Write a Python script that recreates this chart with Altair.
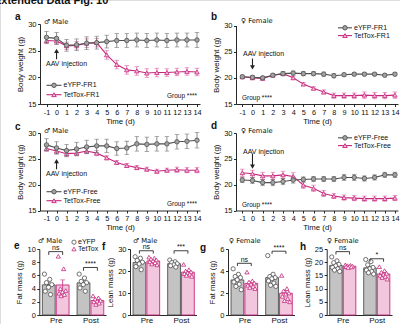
import altair as alt
import pandas as pd

W, H = 400, 324
FONT = "Liberation Sans"
BLACK = "#111111"
GRAY = "#4f4f4f"; GRAY_PT = "#a3a3a3"; ERR_G = "#6e6e6e"
MAG = "#c7277d"; MAG_PT = "#f3c0da"; ERR_M = "#d4589c"
BAR_G = "#c3c3c3"; BAR_P = "#f2c6dc"

days = list(range(-1, 15))

# a: male, FR1
a_eyfp = [27.5, 27.3, 26.0, 26.1, 26.4, 26.5, 26.7, 26.9, 26.9, 27.0, 26.9, 27.0, 26.9, 27.0, 27.0, 27.0]
a_eyfp_sem = [1.1, 1.1, 1.1, 1.1, 1.2, 1.2, 1.2, 1.3, 1.3, 1.3, 1.3, 1.3, 1.3, 1.3, 1.3, 1.4]
a_tet = [26.9, 26.8, 25.9, 26.0, 26.4, 26.5, 24.2, 22.4, 21.4, 21.2, 20.8, 20.9, 20.9, 21.0, 21.1, 21.0]
a_tet_sem = [0.6, 0.6, 0.7, 0.7, 0.8, 0.8, 0.8, 0.8, 0.8, 0.8, 0.8, 0.8, 0.7, 0.7, 0.7, 0.7]
# b: female, FR1
b_eyfp = [20.2, 20.1, 20.0, 20.5, 20.8, 20.9, 20.8, 20.8, 20.7, 20.4, 20.6, 20.7, 20.7, 20.7, 20.5, 20.7]
b_eyfp_sem = [0.3, 0.3, 0.3, 0.3, 0.4, 0.4, 0.4, 0.4, 0.4, 0.4, 0.3, 0.3, 0.3, 0.3, 0.3, 0.3]
b_tet = [20.2, 20.0, 19.9, 20.5, 20.8, 20.0, 18.8, 18.0, 17.3, 16.6, 16.6, 16.6, 16.7, 16.6, 16.6, 16.7]
b_tet_sem = [0.3, 0.3, 0.3, 0.3, 0.3, 0.3, 0.3, 0.3, 0.4, 0.5, 0.5, 0.5, 0.6, 0.6, 0.6, 0.6]
# c: male, free feeding
c_eyfp = [27.7, 27.1, 26.6, 26.9, 27.3, 27.5, 27.5, 27.0, 27.1, 27.9, 27.8, 27.9, 27.9, 28.3, 28.4, 28.6]
c_eyfp_sem = [1.2, 1.2, 1.2, 1.3, 1.3, 1.3, 1.3, 1.3, 1.3, 1.4, 1.4, 1.4, 1.4, 1.4, 1.4, 1.5]
c_tet = [27.0, 26.5, 26.0, 26.1, 26.5, 26.1, 25.2, 24.3, 23.7, 23.3, 23.0, 22.6, 22.8, 22.9, 22.8, 22.8]
c_tet_sem = [0.5, 0.5, 0.5, 0.5, 0.5, 0.5, 0.4, 0.4, 0.4, 0.4, 0.4, 0.4, 0.4, 0.5, 0.5, 0.5]
# d: female, free feeding
d_eyfp = [20.9, 20.8, 20.4, 20.4, 20.6, 20.9, 21.0, 21.1, 21.1, 21.1, 21.4, 21.4, 21.2, 21.4, 21.9, 21.9]
d_eyfp_sem = [0.5, 0.6, 0.6, 0.6, 0.6, 0.6, 0.5, 0.5, 0.5, 0.5, 0.6, 0.6, 0.5, 0.5, 0.5, 0.5]
d_tet = [22.3, 22.1, 21.7, 21.7, 21.9, 21.6, 19.9, 19.3, 18.3, 17.8, 17.5, 17.4, 17.3, 17.3, 17.3, 17.4]
d_tet_sem = [0.7, 0.7, 0.7, 0.7, 0.7, 0.7, 0.6, 0.6, 0.6, 0.5, 0.5, 0.5, 0.5, 0.5, 0.5, 0.5]

# e: male fat mass (g)
e_pre_eyfp = [6.2, 5.4, 4.9, 4.6, 4.2, 3.6, 3.1]
e_pre_tet = [8.9, 7.0, 4.0, 3.7, 3.5, 3.3, 3.1, 2.9]
e_post_eyfp = [6.2, 5.6, 5.1, 4.9, 4.6, 4.1, 3.6]
e_post_tet = [2.9, 2.6, 2.4, 2.2, 2.1, 2.0, 1.8, 1.6]
# f: male lean mass (g)
f_pre_eyfp = [26.5, 25.8, 24.8, 24.0, 23.2, 22.0, 20.6]
f_pre_tet = [26.3, 25.8, 25.4, 25.0, 24.6, 24.2, 23.8, 23.2, 22.8]
f_post_eyfp = [25.0, 24.2, 23.8, 23.3, 22.8, 22.4, 21.8]
f_post_tet = [23.0, 20.6, 20.0, 19.6, 19.2, 18.8, 18.5, 18.0, 17.6]
# g: female fat mass (g)
g_pre_eyfp = [4.2, 3.7, 3.5, 3.4, 3.2, 3.0, 2.8, 2.6, 2.3]
g_pre_tet = [3.9, 3.1, 3.0, 2.9, 2.8, 2.7, 2.6, 2.5, 2.4]
g_post_eyfp = [5.4, 3.7, 3.5, 3.4, 3.3, 3.1, 2.9, 2.7, 2.6]
g_post_tet = [3.6, 2.4, 2.2, 2.0, 1.9, 1.7, 1.5, 1.3, 1.2]
# h: female lean mass (g)
h_pre_eyfp = [22.0, 20.5, 19.8, 19.2, 18.6, 18.0, 17.5, 17.0, 16.5]
h_pre_tet = [19.0, 18.8, 18.7, 18.5, 18.4, 18.3, 18.2, 18.0]
h_post_eyfp = [21.0, 20.2, 19.0, 18.0, 17.5, 17.0, 16.5, 16.0, 15.5]
h_post_tet = [18.3, 16.8, 16.2, 15.8, 15.4, 15.0, 14.6, 14.2, 13.6]

AX = dict(domainColor=BLACK, tickColor=BLACK, labelColor=BLACK, titleColor=BLACK,
          grid=False, domainWidth=0.9, tickWidth=0.9, labelFont=FONT, titleFont=FONT,
          titleFontWeight="normal", labelOverlap=False, labelFlush=False)

ONE = pd.DataFrame({"k": [0]})


def txt(s, x, y, size=7, bold=False, align="left", color=BLACK, baseline="middle", font=FONT):
    return alt.Chart(ONE).mark_text(
        text=s, fontSize=size, font=font, fontWeight="bold" if bold else "normal",
        align=align, baseline=baseline, color=color
    ).encode(x=alt.value(x), y=alt.value(y))


def sex(s, x, y):
    return txt(s, x, y, size=6.8, font="DejaVu Sans")


def legend_entry(x1, x2, y, shape, line_c, fill, label, size=7):
    return [
        alt.Chart(ONE).mark_rule(color=line_c, strokeWidth=1.1).encode(
            x=alt.value(x1), x2=alt.value(x2), y=alt.value(y)),
        alt.Chart(ONE).mark_point(shape=shape, filled=True, fill=fill, stroke=line_c,
                                  strokeWidth=0.9, size=20, opacity=1).encode(
            x=alt.value((x1 + x2) / 2), y=alt.value(y)),
        txt(label, x2 + 2, y, size=size),
    ]


def line_panel(eyfp, eyfp_sem, tet, tet_sem, xr, xdom, yr, arrow):
    xs = alt.Scale(domain=xdom, range=xr, nice=False, zero=False)
    ys = alt.Scale(domain=[15, 30], range=yr, nice=False, zero=False)
    xax = alt.Axis(orient="bottom", offset=yr[0] - H, values=days, title="Time (d)",
                   labelExpr="datum.value < 0 ? '-' + abs(datum.value) : datum.label",
                   labelFontSize=7.3, titleFontSize=7.8, tickSize=2.5, labelPadding=1.5,
                   titlePadding=2, **AX)
    yax = alt.Axis(orient="left", offset=-xr[0], values=[15, 20, 25, 30], title="Body weight (g)",
                   labelFontSize=7.5, titleFontSize=8, tickSize=2.5, labelPadding=1.5,
                   titlePadding=3, **AX)

    def X(f):
        return alt.X(f, scale=xs, axis=xax)

    def Y(f):
        return alt.Y(f, scale=ys, axis=yax)

    layers = []
    for vals, sems, line_c, err_c, shape, fill in [
        (tet, tet_sem, MAG, ERR_M, "triangle-up", MAG_PT),
        (eyfp, eyfp_sem, GRAY, ERR_G, "circle", GRAY_PT),
    ]:
        df = pd.DataFrame({"day": days, "w": vals, "sem": sems})
        base = alt.Chart(df).transform_calculate(lo="datum.w - datum.sem", hi="datum.w + datum.sem")
        layers.append(base.mark_rule(color=err_c, strokeWidth=0.8).encode(
            x=X("day:Q"), y=Y("lo:Q"), y2="hi:Q"))
        for f in ["lo", "hi"]:
            layers.append(base.mark_tick(orient="horizontal", size=4.5, thickness=0.8, color=err_c).encode(
                x=X("day:Q"), y=Y(f + ":Q")))
        layers.append(base.mark_line(color=line_c, strokeWidth=1.1).encode(x=X("day:Q"), y=Y("w:Q")))
        layers.append(base.mark_point(shape=shape, filled=True, fill=fill, stroke=line_c,
                                      strokeWidth=0.8, size=20, opacity=1).encode(
            x=X("day:Q"), y=Y("w:Q")))
    # injection arrow (day 0)
    adf = pd.DataFrame({"day": [0], "a0": [arrow[0]], "a1": [arrow[1]], "tip": [arrow[2]]})
    layers.append(alt.Chart(adf).mark_rule(color="#222222", strokeWidth=1.1).encode(
        x=X("day:Q"), y=Y("a0:Q"), y2="a1:Q"))
    layers.append(alt.Chart(adf).mark_point(shape=arrow[3], filled=True, color="#222222",
                                            size=24, opacity=1).encode(
        x=X("day:Q"), y=Y("tip:Q")))
    return alt.layer(*layers)


def bar_panel(arrs, xr, ydom, yvals, ytitle, brackets):
    rows = []
    for phase, p0, pair in [("Pre", 0.0, arrs[:2]), ("Post", 2.5, arrs[2:])]:
        for gi, (geno, arr) in enumerate(zip(["eYFP", "TetTox"], pair)):
            for i, v in enumerate(arr):
                jit = ((i * 0.618) % 1 - 0.5) * 0.62
                rows.append(dict(phase=phase, geno=geno, v=v, pos=p0 + gi, px=p0 + gi + jit))
    df = pd.DataFrame(rows)
    xs = alt.Scale(domain=[-0.68, 4.12], range=xr, nice=False, zero=False)
    ys = alt.Scale(domain=ydom, range=[315, 249], nice=False, zero=False)
    xax = alt.Axis(orient="bottom", offset=315 - H, values=[0.5, 3.0],
                   labelExpr="datum.value < 1.5 ? 'Pre' : 'Post'", title=None,
                   labelFontSize=8, ticks=False, labelPadding=1, **AX)
    yax = alt.Axis(orient="left", offset=-xr[0], values=yvals, title=ytitle,
                   labelFontSize=7.5, titleFontSize=7.8, tickSize=2.5, labelPadding=1.5,
                   titlePadding=3, **AX)

    def X(f):
        return alt.X(f, scale=xs, axis=xax)

    def Y(f):
        return alt.Y(f, scale=ys, axis=yax)

    fill_s = alt.Scale(domain=["eYFP", "TetTox"], range=[BAR_G, BAR_P])
    stroke_s = alt.Scale(domain=["eYFP", "TetTox"], range=[GRAY, MAG])
    shape_s = alt.Scale(domain=["eYFP", "TetTox"], range=["circle", "triangle-up"])
    base = alt.Chart(df)
    agg = base.transform_aggregate(
        m="mean(v)", s="stderr(v)", groupby=["phase", "geno", "pos"]
    ).transform_calculate(
        x1="datum.pos - 0.46", x2="datum.pos + 0.46", lo="datum.m - datum.s", hi="datum.m + datum.s")
    layers = [
        agg.mark_bar(strokeWidth=0.9).encode(
            x=X("x1:Q"), x2="x2:Q", y=Y("m:Q"), y2=alt.datum(0),
            fill=alt.Fill("geno:N", scale=fill_s, legend=None),
            stroke=alt.Stroke("geno:N", scale=stroke_s, legend=None)),
        agg.mark_rule(strokeWidth=0.8).encode(
            x=X("pos:Q"), y=Y("lo:Q"), y2="hi:Q",
            stroke=alt.Stroke("geno:N", scale=stroke_s, legend=None)),
        agg.mark_tick(orient="horizontal", size=5, thickness=0.8).encode(
            x=X("pos:Q"), y=Y("hi:Q"),
            color=alt.Color("geno:N", scale=stroke_s, legend=None)),
        base.mark_point(filled=True, fill="white", size=18, strokeWidth=0.8, opacity=1).encode(
            x=X("px:Q"), y=Y("v:Q"),
            stroke=alt.Stroke("geno:N", scale=stroke_s, legend=None),
            shape=alt.Shape("geno:N", scale=shape_s, legend=None)),
    ]
    bdf = pd.DataFrame(brackets, columns=["x0", "x1", "y", "leg", "lab"])
    bdf["yl"] = bdf["y"] - bdf["leg"]
    bdf["xm"] = (bdf["x0"] + bdf["x1"]) / 2
    bb = alt.Chart(bdf)
    layers += [
        bb.mark_rule(color=BLACK, strokeWidth=0.8).encode(x=X("x0:Q"), x2="x1:Q", y=Y("y:Q")),
        bb.mark_rule(color=BLACK, strokeWidth=0.8).encode(x=X("x0:Q"), y=Y("y:Q"), y2="yl:Q"),
        bb.mark_rule(color=BLACK, strokeWidth=0.8).encode(x=X("x1:Q"), y=Y("y:Q"), y2="yl:Q"),
        bb.mark_text(font=FONT, fontSize=7, baseline="bottom", dy=-0.5, color=BLACK).encode(
            x=X("xm:Q"), y=Y("y:Q"), text="lab:N"),
    ]
    return alt.layer(*layers)


panels = [
    line_panel(a_eyfp, a_eyfp_sem, a_tet, a_tet_sem, [40, 200], [-1.65, 14.3], [104, 24],
               (23.4, 24.7, 24.95, "triangle-up")),
    line_panel(b_eyfp, b_eyfp_sem, b_tet, b_tet_sem, [236, 398], [-1.62, 14.3], [104, 25.5],
               (23.7, 22.3, 22.0, "triangle-down")),
    line_panel(c_eyfp, c_eyfp_sem, c_tet, c_tet_sem, [40, 200], [-1.65, 14.3], [210.5, 133],
               (23.0, 24.3, 24.55, "triangle-up")),
    line_panel(d_eyfp, d_eyfp_sem, d_tet, d_tet_sem, [236, 398], [-1.62, 14.3], [210.5, 133],
               (26.0, 23.8, 23.5, "triangle-down")),
    bar_panel([e_pre_eyfp, e_pre_tet, e_post_eyfp, e_post_tet], [39.3, 106], [0, 10],
              [0, 2, 4, 6, 8, 10], "Fat mass (g)",
              [(0, 1, 9.6, 0.5, "ns"), (2.5, 3.5, 7.2, 0.5, "****")]),
    bar_panel([f_pre_eyfp, f_pre_tet, f_post_eyfp, f_post_tet], [130, 196.5], [0, 30],
              [0, 10, 20, 30], "Lean mass (g)",
              [(0, 1, 29.2, 1.3, "ns"), (2.5, 3.5, 29.2, 1.3, "***")]),
    bar_panel([g_pre_eyfp, g_pre_tet, g_post_eyfp, g_post_tet], [228, 294.5], [0, 6],
              [0, 2, 4, 6], "Fat mass (g)",
              [(0, 1, 4.7, 0.25, "ns"), (2.5, 3.5, 5.8, 0.25, "****")]),
    bar_panel([h_pre_eyfp, h_pre_tet, h_post_eyfp, h_post_tet], [326.7, 392], [0, 25],
              [0, 5, 10, 15, 20, 25], "Lean mass (g)",
              [(0, 1, 24.0, 1.1, "ns"), (2.5, 3.5, 21.3, 1.1, "*")]),
]

M, F = "\u2642 Male", "\u2640 Female"
ann = [
    txt("Extended Data Fig. 10", -6, 4, size=11, bold=True, baseline="alphabetic"),
    txt("a", 15, 20, size=10, bold=True, baseline="alphabetic"),
    txt("b", 211, 20, size=10, bold=True, baseline="alphabetic"),
    txt("c", 15, 130, size=10, bold=True, baseline="alphabetic"),
    txt("d", 211, 129, size=10, bold=True, baseline="alphabetic"),
    txt("e", 14, 249, size=10, bold=True, baseline="alphabetic"),
    txt("f", 102, 250, size=10, bold=True, baseline="alphabetic"),
    txt("g", 200, 251, size=10, bold=True, baseline="alphabetic"),
    txt("h", 300, 250, size=10, bold=True, baseline="alphabetic"),
    sex(M, 44, 21.5), sex(F, 241, 21), sex(M, 44, 130.5), sex(F, 241, 130.5),
    sex(M, 38, 241.2), sex(M, 133, 240.5), sex(F, 229, 240.7), sex(F, 327, 240.5),
    txt("AAV injection", 46, 64), txt("AAV injection", 243, 54),
    txt("AAV injection", 46, 174), txt("AAV injection", 243, 152),
    txt("Group ****", 197, 96, size=6.5, align="right"),
    txt("Group ****", 242, 98.3, size=6.5),
    txt("Group ****", 197, 204.3, size=6.5, align="right"),
    txt("Group ****", 242, 205, size=6.5),
]
ann += legend_entry(46.5, 61.5, 85.3, "circle", GRAY, GRAY_PT, "eYFP-FR1")
ann += legend_entry(46.5, 61.5, 94.7, "triangle-up", MAG, MAG_PT, "TetTox-FR1")
ann += legend_entry(338, 352, 27.8, "circle", GRAY, GRAY_PT, "eYFP-FR1")
ann += legend_entry(338, 352, 35.6, "triangle-up", MAG, MAG_PT, "TetTox-FR1")
ann += legend_entry(46.5, 61.5, 191.7, "circle", GRAY, GRAY_PT, "eYFP-Free")
ann += legend_entry(46.5, 61.5, 200.7, "triangle-up", MAG, MAG_PT, "TetTox-Free")
ann += legend_entry(338, 352, 137.8, "circle", GRAY, GRAY_PT, "eYFP-Free")
ann += legend_entry(338, 352, 145.6, "triangle-up", MAG, MAG_PT, "TetTox-Free")
ann += [
    alt.Chart(ONE).mark_point(shape="circle", filled=True, fill="white", stroke=GRAY,
                              strokeWidth=0.8, size=18, opacity=1).encode(x=alt.value(74), y=alt.value(242.2)),
    txt("eYFP", 78, 242.2),
    alt.Chart(ONE).mark_point(shape="triangle-up", filled=True, fill="white", stroke=MAG,
                              strokeWidth=0.8, size=18, opacity=1).encode(x=alt.value(74), y=alt.value(249)),
    txt("TetTox", 78, 249),
]

chart = alt.layer(*panels, *ann).resolve_scale(
    x="independent", y="independent"
).properties(
    width=W, height=H, padding=0, autosize=alt.AutoSizeParams(type="none")
).configure_view(stroke=None).configure(font=FONT, background="white")

chart.save("out.html", embed_options={"renderer": "svg", "actions": False})
